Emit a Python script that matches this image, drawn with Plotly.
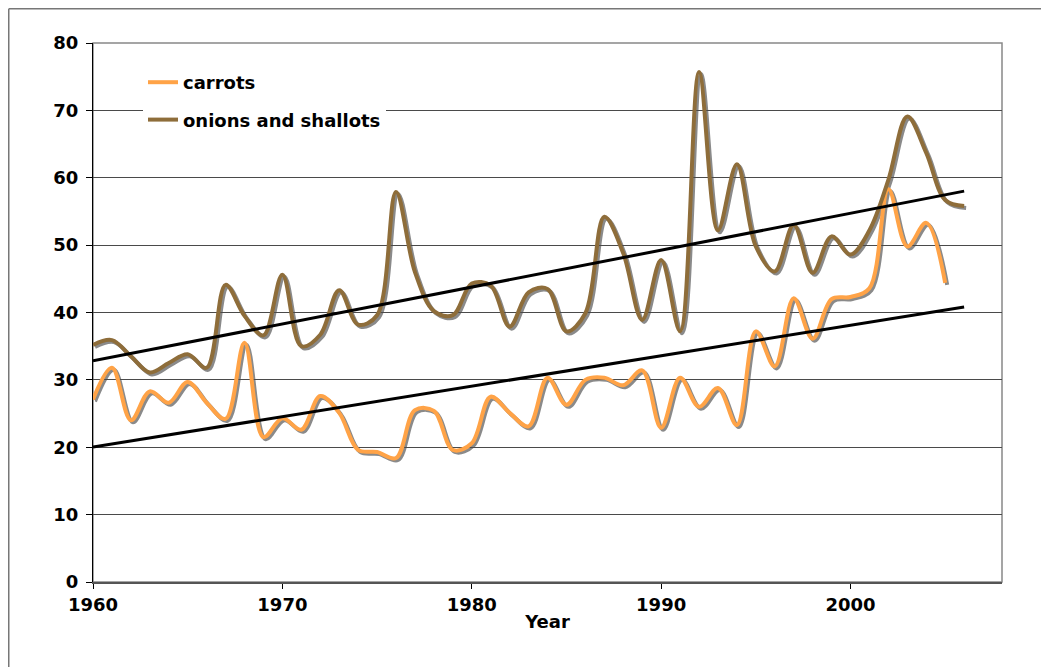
import numpy as np
import plotly.graph_objects as go

years_on = list(range(1960, 2007))
onions = [35.2, 35.9, 33.5, 31.1, 32.5, 33.8, 31.8, 44.1, 39.5, 36.6,
          45.6, 35.0, 36.7, 43.3, 38.2, 39.6, 57.9, 46.0, 40.2, 39.6,
          44.3, 44.0, 37.9, 43.0, 43.5, 37.2, 39.9, 54.2, 48.8, 38.9,
          47.8, 37.2, 75.7, 52.2, 62.0, 49.8, 46.1, 53.0, 45.9, 51.3,
          48.6, 52.2, 59.7, 69.1, 63.7, 56.7, 55.8]
years_ca = list(range(1960, 2006))
carrots = [27.1, 31.8, 24.0, 28.3, 26.6, 29.7, 26.6, 24.2, 35.5, 21.5,
           24.3, 22.6, 27.6, 25.1, 19.6, 19.3, 18.4, 25.5, 25.4, 19.6,
           20.6, 27.5, 25.1, 23.1, 30.3, 26.3, 30.0, 30.3, 29.2, 31.4,
           22.9, 30.3, 26.0, 28.8, 23.3, 37.2, 32.0, 42.1, 36.1, 42.0,
           42.3, 43.6, 58.3, 49.8, 53.3, 44.4]

x_ticks = [1960, 1970, 1980, 1990, 2000]
y_ticks = [0, 10, 20, 30, 40, 50, 60, 70, 80]

C_CAR = "#FFA347"
C_ON = "#8E6D3A"
C_SH = "#8A8A8A"
FONT = "DejaVu Sans"

# page has an 8px body margin, so figure coords = page coords - 8
W, H = 1041, 659
L, T = 85, 35
R = W - 994
B = H - 574
PW, PH = W - L - R, H - T - B
dx, dy = 2.0 / PW, 2.0 / PH
XR = [1960, 2008]
YR = [0, 80]

fig = go.Figure()

# shadows on offset axes (x, y)
for xs, ys in [(years_ca, carrots), (years_on, onions)]:
    fig.add_trace(go.Scatter(x=xs, y=ys, mode="lines", xaxis="x", yaxis="y",
                             line=dict(color=C_SH, width=4, shape="spline", smoothing=1.0),
                             showlegend=False, hoverinfo="skip"))

# main series on visible axes (x2, y2)
fig.add_trace(go.Scatter(x=years_ca, y=carrots, mode="lines", name="<b>carrots</b>",
                         xaxis="x2", yaxis="y2", legendgroup="a",
                         line=dict(color=C_CAR, width=4, shape="spline", smoothing=1.0)))
fig.add_trace(go.Scatter(x=years_on, y=onions, mode="lines", name="<b>onions and shallots</b>",
                         xaxis="x2", yaxis="y2", legendgroup="b",
                         line=dict(color=C_ON, width=4, shape="spline", smoothing=1.0)))

# linear trendlines
for xs, ys in [(years_ca, carrots), (years_on, onions)]:
    k, b0 = np.polyfit(xs, ys, 1)
    tx = [xs[0], years_on[-1]]
    fig.add_trace(go.Scatter(x=tx, y=[k * t + b0 for t in tx], mode="lines",
                             xaxis="x2", yaxis="y2", showlegend=False, hoverinfo="skip",
                             line=dict(color="black", width=3)))

tickfont = dict(family=FONT, size=18, color="black", weight="bold")

fx0 = (0.75 - L) / PW
fy1 = (H - B - 0.75) / PH
fy0 = -(B + 20) / PH
fx1 = (W + 20 - L) / PW

fig.update_layout(
    width=W, height=H,
    margin=dict(l=L, r=R, t=T, b=B),
    paper_bgcolor="white", plot_bgcolor="rgba(0,0,0,0)",
    font=dict(family=FONT, size=18, color="black"),
    xaxis=dict(domain=[dx, 1], range=[XR[0], XR[0] + (XR[1] - XR[0]) * (1 - dx)],
               visible=False, anchor="y", fixedrange=True),
    yaxis=dict(domain=[0, 1 - dy], range=[YR[1] - (YR[1] - YR[0]) * (1 - dy), YR[1]],
               visible=False, anchor="x", fixedrange=True),
    xaxis2=dict(domain=[0, 1], range=XR, anchor="y2", tickvals=x_ticks,
                ticks="outside", ticklen=5, tickcolor="black", tickwidth=1,
                showgrid=False, zeroline=False, showline=True, linecolor="#555555", linewidth=2,
                tickfont=tickfont,
                title=dict(text="<b>Year</b>", font=dict(family=FONT, size=18), standoff=2)),
    yaxis2=dict(domain=[0, 1], range=YR, anchor="x2", tickvals=y_ticks,
                ticks="outside", ticklen=6, tickcolor="black", tickwidth=1,
                showgrid=True, gridcolor="#4a4a4a", gridwidth=1, zeroline=False,
                showline=True, linecolor="black", linewidth=1,
                tickfont=tickfont, ticklabelstandoff=4),
    legend=dict(x=(135 - L) / PW, y=(H - B - 56) / PH, xanchor="left", yanchor="top",
                bgcolor="white", borderwidth=0, tracegroupgap=11, traceorder="grouped",
                font=dict(family=FONT, size=18, color="black")),
    shapes=[
        dict(type="rect", xref="paper", yref="paper", x0=0, x1=1, y0=0, y1=1,
             line=dict(color="#888888", width=1.5), layer="below"),
        dict(type="line", xref="paper", yref="paper", x0=fx0, x1=fx0, y0=fy0, y1=fy1,
             line=dict(color="#777777", width=1.5), layer="below"),
        dict(type="line", xref="paper", yref="paper", x0=fx0, x1=fx1, y0=fy1, y1=fy1,
             line=dict(color="#777777", width=1.5), layer="below"),
    ],
)

fig.write_html("out.html")
